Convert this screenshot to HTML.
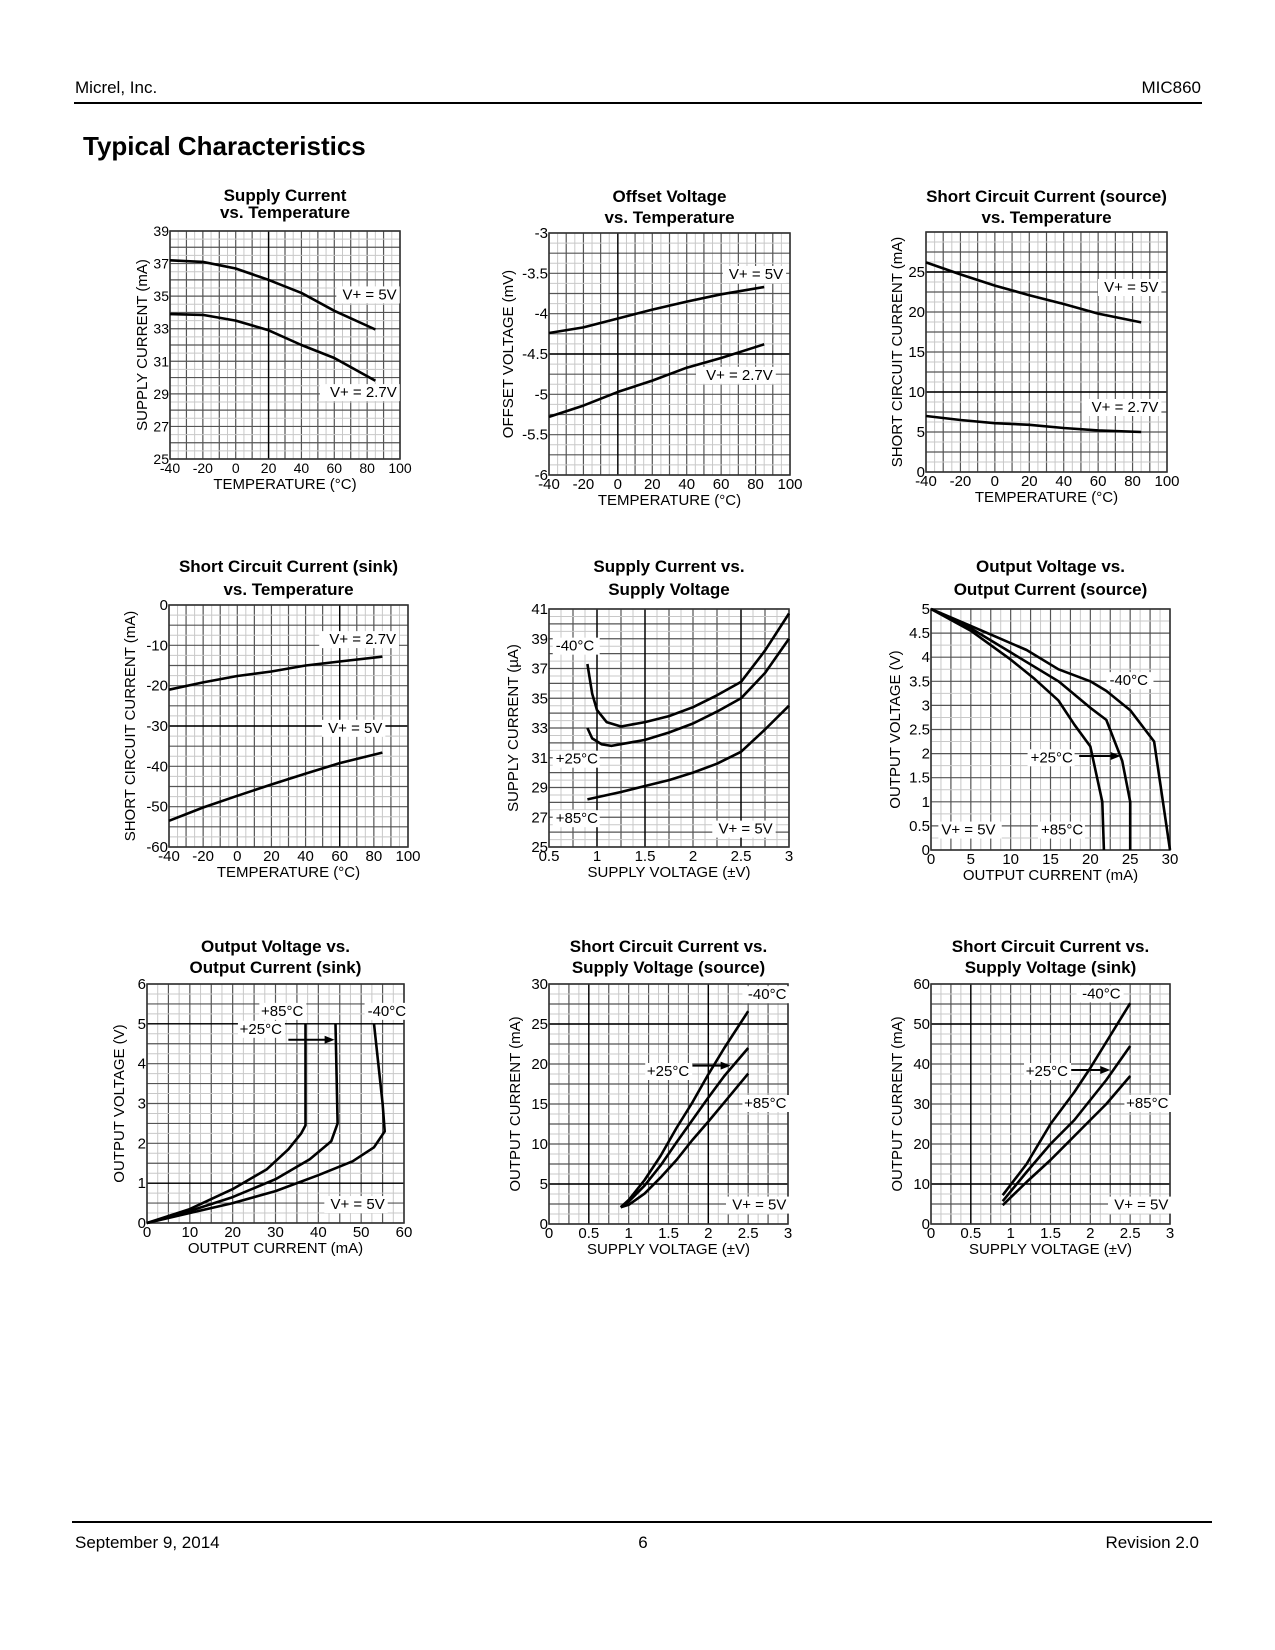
<!DOCTYPE html>
<html><head><meta charset="utf-8"><title>MIC860 Typical Characteristics</title>
<style>
html,body{margin:0;padding:0;background:#fff;}
svg{display:block;font-family:"Liberation Sans",Arial,sans-serif;}
</style></head>
<body>
<svg id="page" width="1275" height="1650" viewBox="0 0 1275 1650" xmlns="http://www.w3.org/2000/svg">
<rect x="0" y="0" width="1275" height="1650" fill="#fff"/>
<text x="75" y="93" font-size="17">Micrel, Inc.</text>
<text x="1201" y="93" font-size="17" text-anchor="end">MIC860</text>
<line x1="74" y1="103" x2="1202" y2="103" stroke="#000" stroke-width="2"/>
<text x="83" y="155" font-size="26" font-weight="bold">Typical Characteristics</text>
<line x1="72" y1="1522" x2="1212" y2="1522" stroke="#000" stroke-width="2"/>
<text x="75" y="1548" font-size="17">September 9, 2014</text>
<text x="643" y="1548" font-size="17" text-anchor="middle">6</text>
<text x="1199" y="1548" font-size="17" text-anchor="end">Revision 2.0</text>
<g id="charts"></g>
</svg>
<script>
// ---- Chart data ----
const tempX = [-40, -20, 0, 20, 40, 60, 85];
const tempTicks = [-40, -20, 0, 20, 40, 60, 80, 100];

// Chart 1: Supply current vs temperature
const c1X5 = [-40, -20, -10, 0, 20, 40, 60, 85];
const c1Y5 = [37.2, 37.1, 36.9, 36.7, 36.0, 35.2, 34.1, 32.95];
const c1X27 = [-40, -20, 0, 20, 40, 60, 85];
const c1Y27 = [33.9, 33.85, 33.5, 32.9, 32.0, 31.2, 29.8];
const c1YTicks = [25, 27, 29, 31, 33, 35, 37, 39];

// Chart 2: Offset voltage vs temperature
const c2Y5 = [-4.24, -4.17, -4.06, -3.95, -3.85, -3.76, -3.67];
const c2Y27 = [-5.28, -5.14, -4.97, -4.83, -4.67, -4.55, -4.38];
const c2YTicks = [-6, -5.5, -5, -4.5, -4, -3.5, -3];

// Chart 3: Short circuit current (source) vs temperature
const c3Y5 = [26.2, 24.7, 23.3, 22.1, 21.0, 19.8, 18.7];
const c3Y27 = [7.0, 6.5, 6.1, 5.9, 5.5, 5.2, 5.0];
const c3YTicks = [0, 5, 10, 15, 20, 25];

// Chart 4: Short circuit current (sink) vs temperature
const c4Y27 = [-21, -19.2, -17.6, -16.5, -15, -14, -12.8];
const c4Y5 = [-53.5, -50.2, -47.3, -44.5, -41.8, -39.2, -36.6];
const c4YTicks = [-60, -50, -40, -30, -20, -10, 0];

// Chart 5: Supply current vs supply voltage
const c5XN40 = [0.9, 0.95, 1.0, 1.1, 1.25, 1.5, 1.75, 2.0, 2.25, 2.5, 2.75, 3.0];
const c5YN40 = [37.3, 35.3, 34.2, 33.4, 33.1, 33.4, 33.8, 34.4, 35.2, 36.1, 38.2, 40.7];
const c5X25 = [0.9, 0.95, 1.05, 1.15, 1.5, 1.75, 2.0, 2.25, 2.5, 2.75, 3.0];
const c5Y25 = [33.0, 32.3, 31.9, 31.8, 32.2, 32.7, 33.3, 34.1, 35.0, 36.7, 39.0];
const c5X85 = [0.9, 1.25, 1.5, 1.75, 2.0, 2.25, 2.5, 2.75, 3.0];
const c5Y85 = [28.2, 28.7, 29.1, 29.5, 30.0, 30.6, 31.4, 32.9, 34.5];
const c5XTicks = [0.5, 1, 1.5, 2, 2.5, 3];
const c5YTicks = [25, 27, 29, 31, 33, 35, 37, 39, 41];

// Chart 6: Output voltage vs output current (source)
const c6XN40 = [0, 5, 12, 16, 20, 22, 25, 28, 30];
const c6YN40 = [5, 4.65, 4.15, 3.75, 3.5, 3.3, 2.9, 2.25, 0];
const c6X25 = [0, 5, 10, 16, 20, 22, 24, 25, 25];
const c6Y25 = [5, 4.6, 4.1, 3.5, 2.95, 2.7, 1.85, 1.0, 0];
const c6X85 = [0, 5, 10, 13, 16, 18, 20, 21.5, 21.7];
const c6Y85 = [5, 4.55, 3.95, 3.55, 3.1, 2.6, 2.15, 1.0, 0];
const c6XTicks = [0, 5, 10, 15, 20, 25, 30];
const c6YTicks = [0, 0.5, 1, 1.5, 2, 2.5, 3, 3.5, 4, 4.5, 5];

// Chart 7: Output voltage vs output current (sink)
const c7X85 = [0, 10, 20, 28, 33, 36, 37, 37];
const c7Y85 = [0, 0.35, 0.85, 1.35, 1.85, 2.25, 2.45, 5];
const c7X25 = [0, 10, 20, 30, 38, 43, 44.5, 44];
const c7Y25 = [0, 0.3, 0.65, 1.1, 1.6, 2.05, 2.5, 5];
const c7XN40 = [0, 10, 20, 30, 40, 48, 53, 55.5, 55, 53];
const c7YN40 = [0, 0.25, 0.5, 0.8, 1.2, 1.55, 1.9, 2.3, 3, 5];
const c7XTicks = [0, 10, 20, 30, 40, 50, 60];
const c7YTicks = [0, 1, 2, 3, 4, 5, 6];

// Chart 8: Short circuit current vs supply voltage (source)
const c8X = [0.9, 1.0, 1.2, 1.4, 1.6, 1.8, 2.0, 2.2, 2.5];
const c8YN40 = [2.1, 3, 5.5, 8.5, 12, 15.2, 18.7, 22, 26.6];
const c8Y25 = [2.1, 2.8, 4.8, 7.3, 10.2, 13, 15.8, 18.5, 22];
const c8Y85 = [2.1, 2.4, 3.8, 5.8, 8, 10.5, 12.8, 15.2, 18.8];
const vTicks = [0, 0.5, 1, 1.5, 2, 2.5, 3];
const c8YTicks = [0, 5, 10, 15, 20, 25, 30];

// Chart 9: Short circuit current vs supply voltage (sink)
const c9X = [0.9, 1.2, 1.5, 1.8, 2.0, 2.2, 2.5];
const c9YN40 = [7.2, 15, 25, 33, 39, 45.5, 55.2];
const c9Y25 = [5.7, 13, 20, 26, 31, 36, 44.5];
const c9Y85 = [4.7, 10.5, 16, 22, 26, 30, 37];
const c9YTicks = [0, 10, 20, 30, 40, 50, 60];

// ---- Drawing ----
const NS = "http://www.w3.org/2000/svg";
const root = document.getElementById("charts");
function mk(tag, attrs, parent) {
  const e = document.createElementNS(NS, tag);
  for (const k in attrs) e.setAttribute(k, attrs[k]);
  parent.appendChild(e);
  return e;
}
function chart(o) {
  const g = mk("g", {}, root);
  
  
  const sx = v => o.L + (v - o.x0) / (o.x1 - o.x0) * (o.R - o.L);
  const sy = v => o.B - (v - o.y0) / (o.y1 - o.y0) * (o.B - o.T);
  const cx = (o.L + o.R) / 2;
  o.title.forEach((t, i) => {
    const tt = mk("text", {x: cx, y: o.titleY[i], "font-size": 17, "font-weight": "bold", "text-anchor": "middle"}, g);
    tt.textContent = t;
    
    
  });
  const grid = mk("g", {}, g);
  
  
  const eps = 1e-6;
  for (let v = o.x0; v <= o.x1 + eps; v += o.xg / 2) {
    const major = Math.abs(((v - o.x0) / o.xg) - Math.round((v - o.x0) / o.xg)) < 1e-4;
    mk("line", {x1: sx(v), x2: sx(v), y1: o.T, y2: o.B, stroke: major ? "#555" : "#c8c8c8", "stroke-width": major ? 1.2 : 1}, grid);
  }
  for (let v = o.y0; v <= o.y1 + eps; v += o.yg / 2) {
    const major = Math.abs(((v - o.y0) / o.yg) - Math.round((v - o.y0) / o.yg)) < 1e-4;
    mk("line", {x1: o.L, x2: o.R, y1: sy(v), y2: sy(v), stroke: major ? "#555" : "#c8c8c8", "stroke-width": major ? 1.2 : 1}, grid);
  }
  (o.boldX || []).forEach(v => mk("line", {x1: sx(v), x2: sx(v), y1: o.T, y2: o.B, stroke: "#000", "stroke-width": 1.4}, grid));
  (o.boldY || []).forEach(v => mk("line", {x1: o.L, x2: o.R, y1: sy(v), y2: sy(v), stroke: "#000", "stroke-width": 1.4}, grid));
  const fr = mk("rect", {x: o.L, y: o.T, width: o.R - o.L, height: o.B - o.T, fill: "none", stroke: "#333", "stroke-width": 1.6}, g);
  
  
  const fs = o.fs || 15;
  o.xt.forEach(v => {
    const t = mk("text", {x: sx(v), y: o.B + 14, "font-size": fs, "text-anchor": "middle"}, g);
    t.textContent = String(v);
    
    
  });
  o.yt.forEach(v => {
    const t = mk("text", {x: o.L - 1, y: sy(v) + 5, "font-size": fs, "text-anchor": "end"}, g);
    t.textContent = String(v);
    
    
  });
  const xl = mk("text", {x: cx, y: o.B + 30, "font-size": 15, "text-anchor": "middle"}, g);
  xl.textContent = o.xlab;
  
  
  const ym = (o.T + o.B) / 2;
  const yl = mk("text", {x: o.ylx, y: ym, "font-size": 15, "text-anchor": "middle", transform: `rotate(-90 ${o.ylx} ${ym})`}, g);
  yl.textContent = o.ylab;
  
  
  (o.labels || []).forEach(l => {
    const px = sx(l.x), py = sy(l.y);
    const w = l.t.length * 8.2 + 6;
    const ax = l.a === "end" ? px - w + 3 : (l.a === "middle" ? px - w / 2 : px - 3);
    mk("rect", {x: ax, y: py - 13, width: w, height: 17, fill: "#fff"}, g);
    const t = mk("text", {x: px, y: py, "font-size": 15, "text-anchor": l.a || "start"}, g);
    t.textContent = l.t;
    
    
  });
  (o.arrows || []).forEach(a => {
    const y = sy(a.y);
    mk("line", {x1: sx(a.x1), x2: sx(a.x2) - 8, y1: y, y2: y, stroke: "#000", "stroke-width": 2}, g);
    const ah = mk("polygon", {points: `${sx(a.x2)},${y} ${sx(a.x2) - 10},${y - 4} ${sx(a.x2) - 10},${y + 4}`, fill: "#000"}, g);
    
    
  });
  o.series.forEach(s => {
    const d = s.xs.map((v, i) => (i ? "L" : "M") + sx(v).toFixed(1) + "," + sy(s.ys[i]).toFixed(1)).join(" ");
    const p = mk("path", {d: d, fill: "none", stroke: "#000", "stroke-width": 2.6, "stroke-linejoin": "round"}, g);
    
    
  });
}

chart({name: "supply-current-vs-temperature", L: 170, T: 231, R: 400, B: 459, x0: -40, x1: 100, y0: 25, y1: 39,
  xg: 10, yg: 1, boldX: [20], xt: tempTicks, yt: c1YTicks, fs: 14,
  title: ["Supply Current", "vs. Temperature"], titleY: [201, 218],
  xlab: "TEMPERATURE (°C)", ylab: "SUPPLY CURRENT (mA)", ylx: 147,
  labels: [{t: "V+ = 5V", x: 98, y: 34.8, a: "end"}, {t: "V+ = 2.7V", x: 98, y: 28.8, a: "end"}],
  series: [{name: "line-5v", xs: c1X5, ys: c1Y5}, {name: "line-2-7v", xs: c1X27, ys: c1Y27}]});

chart({name: "offset-voltage-vs-temperature", L: 549, T: 233, R: 790, B: 475, x0: -40, x1: 100, y0: -6, y1: -3,
  xg: 10, yg: 0.25, boldX: [0], boldY: [-4.5], xt: tempTicks, yt: c2YTicks,
  title: ["Offset Voltage", "vs. Temperature"], titleY: [202, 223],
  xlab: "TEMPERATURE (°C)", ylab: "OFFSET VOLTAGE (mV)", ylx: 513,
  labels: [{t: "V+ = 5V", x: 96, y: -3.57, a: "end"}, {t: "V+ = 2.7V", x: 90, y: -4.82, a: "end"}],
  series: [{name: "line-5v", xs: tempX, ys: c2Y5}, {name: "line-2-7v", xs: tempX, ys: c2Y27}]});

chart({name: "short-circuit-source-vs-temperature", L: 926, T: 232, R: 1167, B: 472, x0: -40, x1: 100, y0: 0, y1: 30,
  xg: 10, yg: 2.5, boldY: [10, 25], xt: tempTicks, yt: c3YTicks,
  title: ["Short Circuit Current (source)", "vs. Temperature"], titleY: [202, 223],
  xlab: "TEMPERATURE (°C)", ylab: "SHORT CIRCUIT CURRENT (mA)", ylx: 902,
  labels: [{t: "V+ = 5V", x: 95, y: 22.5, a: "end"}, {t: "V+ = 2.7V", x: 95, y: 7.5, a: "end"}],
  series: [{name: "line-5v", xs: tempX, ys: c3Y5}, {name: "line-2-7v", xs: tempX, ys: c3Y27}]});

chart({name: "short-circuit-sink-vs-temperature", L: 169, T: 605, R: 408, B: 847, x0: -40, x1: 100, y0: -60, y1: 0,
  xg: 10, yg: 5, boldX: [60], boldY: [-30], xt: tempTicks, yt: c4YTicks,
  title: ["Short Circuit Current (sink)", "vs. Temperature"], titleY: [572, 595],
  xlab: "TEMPERATURE (°C)", ylab: "SHORT CIRCUIT CURRENT (mA)", ylx: 135,
  labels: [{t: "V+ = 2.7V", x: 93, y: -9.7, a: "end"}, {t: "V+ = 5V", x: 85, y: -31.7, a: "end"}],
  series: [{name: "line-2-7v", xs: tempX, ys: c4Y27}, {name: "line-5v", xs: tempX, ys: c4Y5}]});

chart({name: "supply-current-vs-supply-voltage", L: 549, T: 609, R: 789, B: 847, x0: 0.5, x1: 3, y0: 25, y1: 41,
  xg: 0.25, yg: 1, boldX: [1, 1.5, 2.5], xt: c5XTicks, yt: c5YTicks,
  title: ["Supply Current vs.", "Supply Voltage"], titleY: [572, 595],
  xlab: "SUPPLY VOLTAGE (±V)", ylab: "SUPPLY CURRENT (µA)", ylx: 518,
  labels: [{t: "-40°C", x: 0.57, y: 38.2}, {t: "+25°C", x: 0.57, y: 30.6}, {t: "+85°C", x: 0.57, y: 26.6}, {t: "V+ = 5V", x: 2.83, y: 25.9, a: "end"}],
  series: [{name: "line-minus-40c", xs: c5XN40, ys: c5YN40}, {name: "line-25c", xs: c5X25, ys: c5Y25}, {name: "line-85c", xs: c5X85, ys: c5Y85}]});

chart({name: "output-voltage-vs-output-current-source", L: 931, T: 609, R: 1170, B: 850, x0: 0, x1: 30, y0: 0, y1: 5,
  xg: 2.5, yg: 0.5, xt: c6XTicks, yt: c6YTicks,
  title: ["Output Voltage vs.", "Output Current (source)"], titleY: [572, 595],
  xlab: "OUTPUT CURRENT (mA)", ylab: "OUTPUT VOLTAGE (V)", ylx: 900,
  labels: [{t: "-40°C", x: 22.4, y: 3.42}, {t: "+25°C", x: 12.5, y: 1.82}, {t: "V+ = 5V", x: 1.3, y: 0.32}, {t: "+85°C", x: 13.8, y: 0.32}],
  arrows: [{x1: 18.6, x2: 23.8, y: 1.95}],
  series: [{name: "line-minus-40c", xs: c6XN40, ys: c6YN40}, {name: "line-25c", xs: c6X25, ys: c6Y25}, {name: "line-85c", xs: c6X85, ys: c6Y85}]});

chart({name: "output-voltage-vs-output-current-sink", L: 147, T: 984, R: 404, B: 1223, x0: 0, x1: 60, y0: 0, y1: 6,
  xg: 5, yg: 0.5, boldY: [1, 5], xt: c7XTicks, yt: c7YTicks,
  title: ["Output Voltage vs.", "Output Current (sink)"], titleY: [952, 973],
  xlab: "OUTPUT CURRENT (mA)", ylab: "OUTPUT VOLTAGE (V)", ylx: 124,
  labels: [{t: "+85°C", x: 36.5, y: 5.2, a: "end"}, {t: "-40°C", x: 51.5, y: 5.2}, {t: "+25°C", x: 31.5, y: 4.75, a: "end"}, {t: "V+ = 5V", x: 55.5, y: 0.35, a: "end"}],
  arrows: [{x1: 33, x2: 43.8, y: 4.6}],
  series: [{name: "line-85c", xs: c7X85, ys: c7Y85}, {name: "line-25c", xs: c7X25, ys: c7Y25}, {name: "line-minus-40c", xs: c7XN40, ys: c7YN40}]});

chart({name: "short-circuit-vs-supply-voltage-source", L: 549, T: 984, R: 788, B: 1224, x0: 0, x1: 3, y0: 0, y1: 30,
  xg: 0.25, yg: 2.5, boldX: [0.5, 2], boldY: [5, 25], xt: vTicks, yt: c8YTicks,
  title: ["Short Circuit Current vs.", "Supply Voltage (source)"], titleY: [952, 973],
  xlab: "SUPPLY VOLTAGE (±V)", ylab: "OUTPUT CURRENT (mA)", ylx: 520,
  labels: [{t: "-40°C", x: 2.98, y: 28.1, a: "end"}, {t: "+25°C", x: 1.76, y: 18.5, a: "end"}, {t: "+85°C", x: 2.98, y: 14.5, a: "end"}, {t: "V+ = 5V", x: 2.98, y: 1.8, a: "end"}],
  arrows: [{x1: 1.8, x2: 2.28, y: 19.8}],
  series: [{name: "line-minus-40c", xs: c8X, ys: c8YN40}, {name: "line-25c", xs: c8X, ys: c8Y25}, {name: "line-85c", xs: c8X, ys: c8Y85}]});

chart({name: "short-circuit-vs-supply-voltage-sink", L: 931, T: 984, R: 1170, B: 1224, x0: 0, x1: 3, y0: 0, y1: 60,
  xg: 0.25, yg: 5, boldX: [0.5], boldY: [10, 50], xt: vTicks, yt: c9YTicks,
  title: ["Short Circuit Current vs.", "Supply Voltage (sink)"], titleY: [952, 973],
  xlab: "SUPPLY VOLTAGE (±V)", ylab: "OUTPUT CURRENT (mA)", ylx: 902,
  labels: [{t: "-40°C", x: 2.38, y: 56.4, a: "end"}, {t: "+25°C", x: 1.72, y: 37, a: "end"}, {t: "+85°C", x: 2.98, y: 29, a: "end"}, {t: "V+ = 5V", x: 2.98, y: 3.6, a: "end"}],
  arrows: [{x1: 1.76, x2: 2.25, y: 38.5}],
  series: [{name: "line-minus-40c", xs: c9X, ys: c9YN40}, {name: "line-25c", xs: c9X, ys: c9Y25}, {name: "line-85c", xs: c9X, ys: c9Y85}]});
</script>
</body></html>
